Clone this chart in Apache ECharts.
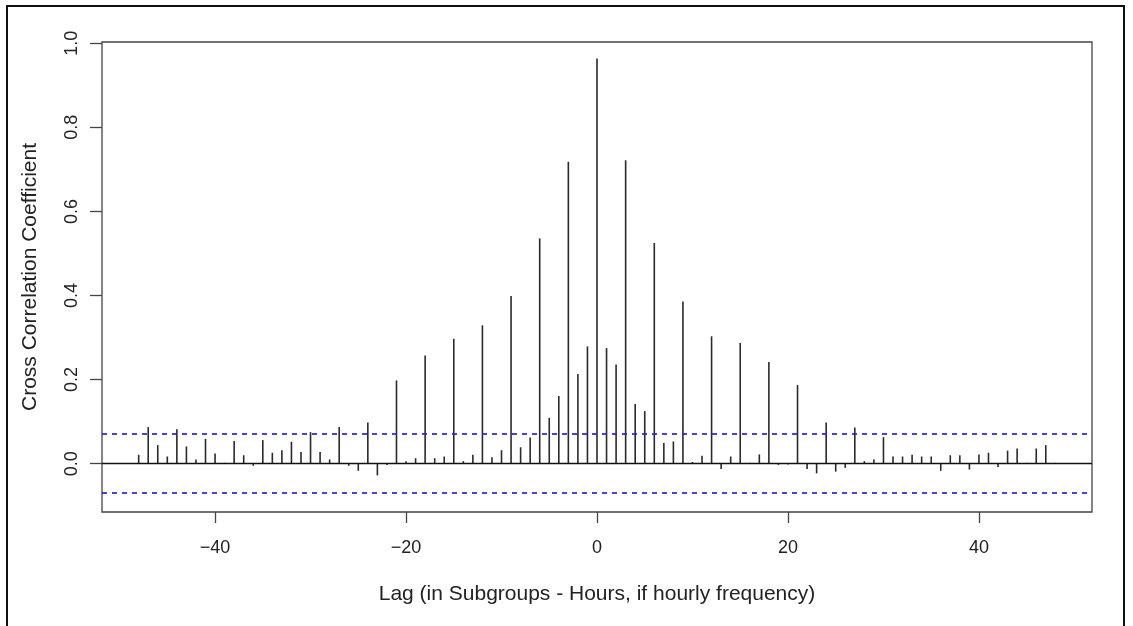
<!DOCTYPE html>
<html>
<head>
<meta charset="utf-8">
<script src="https://cdn.jsdelivr.net/npm/echarts@6/dist/echarts.min.js"></script>
<style>
html,body{margin:0;padding:0;background:#fff;}
#chart{width:1133px;height:626px;}
</style>
</head>
<body>
<div id="chart"></div>
<script>
// Lags (in subgroups)
const lags = [];
for (let k = -48; k <= 48; k++) lags.push(k);

// Cross correlation coefficients for lags -48 .. 48
const ccfValues = [
  0.021, 0.087, 0.044, 0.017, 0.082, 0.041, 0.010, 0.059, 0.024, 0.002,   // -48..-39
  0.054, 0.020, -0.005, 0.056, 0.026, 0.032, 0.052, 0.028, 0.075, 0.028,  // -38..-29
  0.010, 0.087, -0.005, -0.017, 0.098, -0.028, -0.003, 0.198, 0.006, 0.013, // -28..-19
  0.257, 0.013, 0.017, 0.297, 0.006, 0.021, 0.329, 0.015, 0.032, 0.399,   // -18..-9
  0.039, 0.062, 0.536, 0.109, 0.161, 0.718, 0.213, 0.279,                 // -8..-1
  0.964,                                                                  // 0
  0.275, 0.236, 0.722, 0.142, 0.125, 0.525, 0.049, 0.053, 0.386, 0.004,   // 1..10
  0.019, 0.303, -0.013, 0.017, 0.287, 0.002, 0.022, 0.242, -0.003, -0.002, // 11..20
  0.187, -0.013, -0.023, 0.098, -0.019, -0.010, 0.086, 0.006, 0.010, 0.063, // 21..30
  0.017, 0.017, 0.021, 0.017, 0.017, -0.017, 0.020, 0.020, -0.014, 0.022, // 31..40
  0.026, -0.008, 0.031, 0.036, 0.002, 0.036, 0.044, 0.002                 // 41..48
];

// Confidence bounds
const ciUpper = 0.0735;
const ciLower = -0.0735;

// Tick labels
const xTicks = [-40, -20, 0, 20, 40];
const yTicks = [0, 0.2, 0.4, 0.6, 0.8, 1.0];

const xTitle = 'Lag (in Subgroups - Hours, if hourly frequency)';
const yTitle = 'Cross Correlation Coefficient';

const data = lags.map((l, i) => [l, ccfValues[i]]);

const FONT = '"Liberation Sans", Arial, Helvetica, sans-serif';
const chart = echarts.init(document.getElementById('chart'), null, {renderer: 'canvas'});

chart.setOption({
  backgroundColor: '#ffffff',
  animation: false,
  graphic: [{
    type: 'rect',
    shape: {x: 7, y: 6, width: 1117, height: 640},
    style: {fill: 'none', stroke: '#111', lineWidth: 2},
    silent: true,
    z: 0
  }],
  grid: {
    left: 102, right: 41, top: 42, bottom: 114,
    show: true, borderColor: '#444', borderWidth: 1.3, backgroundColor: 'transparent'
  },
  xAxis: {
    type: 'value',
    min: -51.84, max: 51.84,
    splitLine: {show: false},
    axisLine: {show: false, onZero: false},
    axisTick: {show: true, inside: false, length: 11, lineStyle: {color: '#444', width: 1.3}, customValues: xTicks},
    axisLabel: {show: true, customValues: xTicks, margin: 27, color: '#222', fontSize: 18, fontFamily: FONT,
      formatter: v => (v < 0 ? '\u2212' + Math.abs(v) : String(v))},
    name: xTitle,
    nameLocation: 'middle',
    nameGap: 72,
    nameTextStyle: {color: '#222', fontSize: 21, fontFamily: FONT}
  },
  yAxis: {
    type: 'value',
    min: -0.115, max: 1.003,
    splitLine: {show: false},
    axisLine: {show: false, onZero: false},
    axisTick: {show: true, inside: false, length: 12, lineStyle: {color: '#444', width: 1.3}, customValues: yTicks},
    axisLabel: {show: true, customValues: yTicks, rotate: 90, margin: 21, color: '#222', fontSize: 18, fontFamily: FONT,
      formatter: v => v.toFixed(1)},
    name: yTitle,
    nameLocation: 'middle',
    nameGap: 61,
    nameRotate: 90,
    nameTextStyle: {color: '#222', fontSize: 21, fontFamily: FONT}
  },
  series: [{
    type: 'custom',
    data: data,
    clip: true,
    renderItem: function (params, api) {
      const x = api.value(0), y = api.value(1);
      const p0 = api.coord([x, 0]);
      const p1 = api.coord([x, y]);
      return {
        type: 'line',
        shape: {x1: p0[0], y1: p0[1], x2: p1[0], y2: p1[1]},
        style: {stroke: '#2a2a2a', lineWidth: 1.6}
      };
    },
    markLine: {
      silent: true,
      symbol: ['none', 'none'],
      label: {show: false},
      data: [
        {yAxis: 0, lineStyle: {color: '#111', type: 'solid', width: 1.4}},
        {yAxis: ciUpper, lineStyle: {color: '#2626d8', type: [5, 5], width: 1.7}},
        {yAxis: ciLower, lineStyle: {color: '#2626d8', type: [5, 5], width: 1.7}}
      ]
    }
  }]
});
</script>
</body>
</html>
